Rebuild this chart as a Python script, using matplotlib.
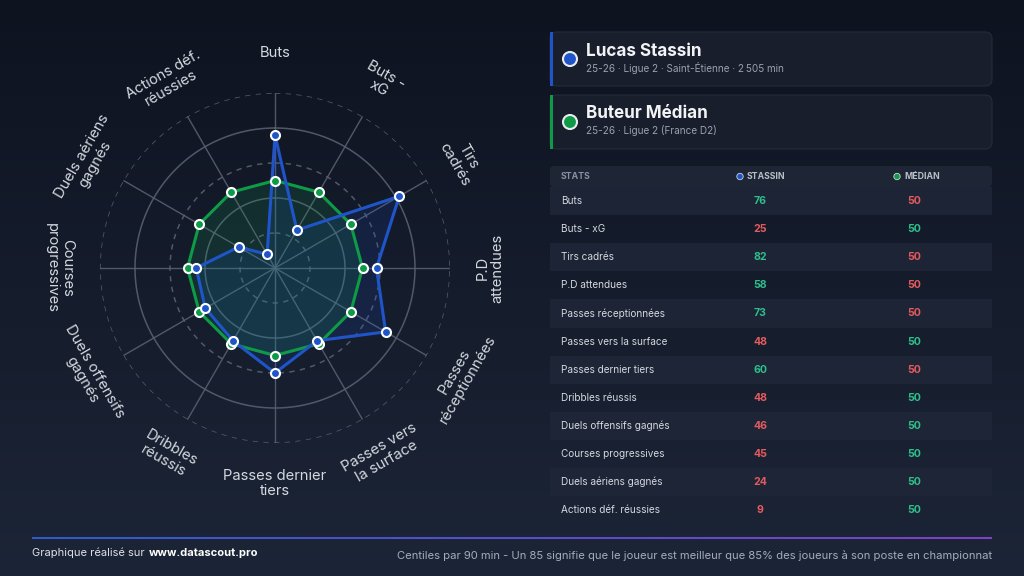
import numpy as np
import matplotlib
matplotlib.use("Agg")
import matplotlib.pyplot as plt
from matplotlib.patches import FancyBboxPatch, Circle, Rectangle

# ---------------- data ----------------
categories = ["Buts", "Buts - xG", "Tirs cadrés", "P.D attendues", "Passes réceptionnées",
              "Passes vers la surface", "Passes dernier tiers", "Dribbles réussis",
              "Duels offensifs gagnés", "Courses progressives", "Duels aériens gagnés",
              "Actions déf. réussies"]
radar_labels = ["Buts", "Buts -\nxG", "Tirs\ncadrés", "P.D\nattendues", "Passes\nréceptionnées",
                "Passes vers\nla surface", "Passes dernier\ntiers", "Dribbles\nréussis",
                "Duels offensifs\ngagnés", "Courses\nprogressives", "Duels aériens\ngagnés",
                "Actions déf.\nréussies"]
player_values = [76, 25, 82, 58, 73, 48, 60, 48, 46, 45, 24, 9]
median_values = [50, 50, 50, 50, 50, 50, 50, 50, 50, 50, 50, 50]
ring_levels = [20, 40, 60, 80, 100]
player_name = "Lucas Stassin"
player_sub = "25-26 · Ligue 2 · Saint-Étienne · 2\u2009505 min"
median_name = "Buteur Médian"
median_sub = "25-26 · Ligue 2 (France D2)"

# ---------------- style ----------------
plt.rcParams['font.family'] = ['Inter', 'DejaVu Sans']
BLUE = "#1f55c9"
GREEN = "#0e9a47"
GOOD = "#2fbf8a"
BAD = "#e35b5e"
TXT = "#d4d8df"
SUB = "#9aa1ad"

W, H = 1024, 576
fig = plt.figure(figsize=(W / 100, H / 100), dpi=100)

# pixel axes for background, cards, table, footer
ax = fig.add_axes([0, 0, 1, 1])
ax.set_xlim(0, W)
ax.set_ylim(H, 0)
ax.axis("off")

grad = np.linspace(0, 1, 256).reshape(-1, 1)
c_top = np.array([14, 19, 32]) / 255
c_bot = np.array([28, 37, 55]) / 255
img = c_top + (c_bot - c_top) * grad[:, :, None]
img = np.repeat(img, 2, axis=1)
ax.imshow(img, extent=[0, W, H, 0], aspect="auto", zorder=0)

# ---------------- cards ----------------
def card(y0, y1, color, name, sub):
    ax.add_patch(FancyBboxPatch((550, y0), 442, y1 - y0,
                                boxstyle="round,pad=0,rounding_size=7",
                                fc="#191e2c", ec="#242b3a", lw=0.8, zorder=2))
    ax.add_patch(Rectangle((550, y0), 3, y1 - y0, fc=color, ec="none", zorder=3))
    yc = (y0 + y1) / 2
    ax.add_patch(Circle((570, yc), 7, fc=color, ec="#e8eaee", lw=1.5, zorder=4))
    ax.text(586, yc - 8, name, fontsize=12.3, fontweight="bold", color="#f2f3f5",
            ha="left", va="center", zorder=4)
    ax.text(586, yc + 8.5, sub, fontsize=7.2, color=SUB, ha="left", va="center", zorder=4)

card(32, 86, BLUE, player_name, player_sub)
card(95, 149, GREEN, median_name, median_sub)

# ---------------- table ----------------
x_lab, x_p, x_m = 561, 760, 914
ax.add_patch(FancyBboxPatch((550, 166), 442, 21, boxstyle="round,pad=0,rounding_size=4",
                            fc="#1e2535", ec="none", zorder=2))
ax.text(x_lab, 176.5, "STATS", fontsize=6.3, color="#8a91a0", fontweight="bold",
        ha="left", va="center", zorder=4)
ax.add_patch(Circle((740, 176.5), 3.2, fc=BLUE, ec="#cfd3da", lw=0.6, zorder=4))
ax.text(747, 176.5, "STASSIN", fontsize=6.3, color="#b9bec8", fontweight="bold",
        ha="left", va="center", zorder=4)
ax.add_patch(Circle((897, 176.5), 3.2, fc=GREEN, ec="#cfd3da", lw=0.6, zorder=4))
ax.text(904, 176.5, "MÉDIAN", fontsize=6.3, color="#b9bec8", fontweight="bold",
        ha="left", va="center", zorder=4)

row_h = 28.1
top = 187
for i, (cat, pv, mv) in enumerate(zip(categories, player_values, median_values)):
    y0 = top + i * row_h
    yc = y0 + row_h / 2
    if i % 2 == 0:
        ax.add_patch(Rectangle((550, y0), 442, row_h, fc="#1f2637", ec="none",
                               alpha=0.9, zorder=1.5))
    ax.text(x_lab, yc, cat, fontsize=7.2, color=TXT, ha="left", va="center", zorder=4)
    ax.text(x_p, yc, str(pv), fontsize=7.6, fontweight="bold",
            color=GOOD if pv >= mv else BAD, ha="center", va="center", zorder=4)
    ax.text(x_m, yc, str(mv), fontsize=7.6, fontweight="bold",
            color=GOOD if mv > pv else BAD, ha="center", va="center", zorder=4)

# ---------------- footer ----------------
strip = np.linspace(0, 1, 256).reshape(1, -1)
c_l = np.array([44, 92, 208]) / 255
c_r = np.array([124, 66, 200]) / 255
simg = c_l + (c_r - c_l) * strip[:, :, None]
ax.imshow(simg, extent=[32, 992, 539.5, 537.5], aspect="auto", zorder=3)
ax.text(32, 553, "Graphique réalisé sur ", fontsize=8.0, color="#dfe2e7",
        ha="left", va="center", zorder=4)
ax.text(149, 553, "www.datascout.pro", fontsize=8.0, color="#ffffff", fontweight="bold",
        ha="left", va="center", zorder=4)
ax.text(992, 556, "Centiles par 90 min - Un 85 signifie que le joueur est meilleur que 85% des joueurs à son poste en championnat",
        fontsize=8.1, color="#a6acb7", ha="right", va="center", zorder=4)
ax.set_xlim(0, W)
ax.set_ylim(H, 0)

# ---------------- radar ----------------
cx, cy, R = 275, 268, 175
pax = fig.add_axes([(cx - R) / W, (H - cy - R) / H, 2 * R / W, 2 * R / H], projection="polar")
pax.set_facecolor("none")
pax.set_theta_zero_location("N")
pax.set_theta_direction(-1)
pax.set_ylim(0, 100)
pax.grid(False)
pax.set_xticks([])
pax.set_yticks([])
pax.spines["polar"].set_visible(False)

n = len(categories)
angles = np.arange(n) * 2 * np.pi / n
full = np.linspace(0, 2 * np.pi, 361)
for lv in ring_levels:
    ls = (0, (3.5, 3.5)) if (lv // 20) % 2 == 1 else "-"
    pax.plot(full, np.full_like(full, lv), color="#586070", lw=1.1, ls=ls, alpha=0.9, zorder=1)
for a in angles:
    pax.plot([a, a], [0, 100], color="#586070", lw=1.0, alpha=0.9, zorder=1)

a_closed = np.concatenate([angles, angles[:1]])
med_closed = np.concatenate([median_values, median_values[:1]])
pl_closed = np.concatenate([player_values, player_values[:1]])

pax.fill(a_closed, pl_closed, color="#2050d8", alpha=0.14, zorder=2)
pax.fill(a_closed, med_closed, color="#14a85a", alpha=0.15, zorder=2)
pax.plot(a_closed, med_closed, color=GREEN, lw=2.2, zorder=3)
pax.plot(a_closed, pl_closed, color=BLUE, lw=2.2, zorder=4)
pax.plot(angles, median_values, "o", ms=6.5, mfc=GREEN, mec="white", mew=1.5, zorder=5, ls="none")
pax.plot(angles, player_values, "o", ms=6.5, mfc=BLUE, mec="white", mew=1.5, zorder=6, ls="none")

for a, lab in zip(angles, radar_labels):
    deg = np.degrees(a)
    if deg < 90 - 1e-6:
        rot = -deg
    elif deg <= 270 + 1e-6:
        rot = 180 - deg
    else:
        rot = 360 - deg
    pax.text(a, 123, lab, rotation=rot, rotation_mode="anchor", ha="center", va="center",
             multialignment="center", fontsize=10.6, color=TXT, clip_on=False, linespacing=1.1)

fig.savefig("out.png", dpi=100)
